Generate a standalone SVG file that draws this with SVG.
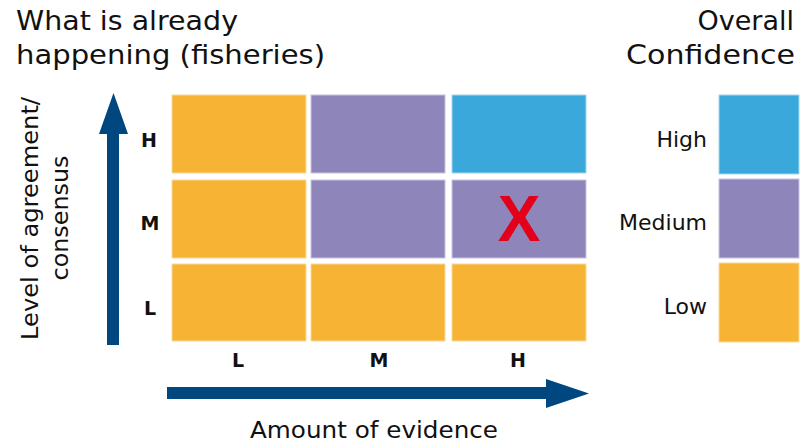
<svg xmlns="http://www.w3.org/2000/svg" width="800" height="445" viewBox="0 0 800 445">
  <style>
    text { font-family: "DejaVu Sans", "Liberation Sans", sans-serif; fill: #111111; }
    .title { font-size: 27px; }
    .axis { font-size: 23px; }
    .tick { font-size: 19px; font-weight: bold; text-anchor: middle; }
    .legend { font-size: 22px; text-anchor: end; }
    .low { fill: #F7B334; stroke: #FBD99A; stroke-width: 1; }
    .med { fill: #8E86BA; stroke: #C9C4E0; stroke-width: 1; }
    .high { fill: #3AA8DB; stroke: #A6D8F0; stroke-width: 1; }
    .arrow { fill: #00467F; }
    .mark { font-family: "Liberation Sans", Arial, sans-serif; font-weight: bold; font-size: 64px; fill: #E3001B; text-anchor: middle; }
  </style>

  <!-- headings -->
  <g id="title">
    <text class="title" x="16" y="30" textLength="222" lengthAdjust="spacingAndGlyphs">What is already</text>
    <text class="title" x="16" y="64" textLength="309" lengthAdjust="spacingAndGlyphs">happening (fisheries)</text>
  </g>
  <g id="legend-title">
    <text class="title" x="794" y="30" text-anchor="end">Overall</text>
    <text class="title" x="795" y="64" text-anchor="end" textLength="169" lengthAdjust="spacingAndGlyphs">Confidence</text>
  </g>

  <!-- axes -->
  <g id="axes">
    <path class="arrow" d="M107,345 V134 H99 L113.5,93 L128,134 H119 V345 Z"/>
    <path class="arrow" d="M167,387 H546 V379 L589,393.5 L546,408 V399 H167 Z"/>
  </g>

  <g id="y-axis-label">
    <text class="axis" transform="translate(38,218.5) rotate(-90)" text-anchor="middle" textLength="243" lengthAdjust="spacingAndGlyphs">Level of agreement/</text>
    <text class="axis" transform="translate(68,218) rotate(-90)" text-anchor="middle" textLength="125" lengthAdjust="spacingAndGlyphs">consensus</text>
  </g>
  <g id="x-axis-label">
    <text class="axis" x="250" y="438" textLength="248" lengthAdjust="spacingAndGlyphs">Amount of evidence</text>
  </g>

  <!-- tick labels -->
  <g id="row-labels">
    <text class="tick" x="149" y="147">H</text>
    <text class="tick" x="150" y="230">M</text>
    <text class="tick" x="150" y="315">L</text>
  </g>
  <g id="col-labels">
    <text class="tick" x="238" y="367">L</text>
    <text class="tick" x="379" y="367">M</text>
    <text class="tick" x="518" y="367">H</text>
  </g>

  <!-- confidence grid: rows = agreement (H, M, L), columns = evidence (L, M, H) -->
  <g id="grid">
    <rect class="low"  x="172" y="95"  width="134" height="78"/>
    <rect class="med"  x="311" y="95"  width="134" height="78"/>
    <rect class="high" x="452" y="95"  width="134" height="78"/>
    <rect class="low"  x="172" y="180" width="134" height="78"/>
    <rect class="med"  x="311" y="180" width="134" height="78"/>
    <rect class="med"  x="452" y="180" width="134" height="78"/>
    <rect class="low"  x="172" y="264" width="134" height="77"/>
    <rect class="low"  x="311" y="264" width="134" height="77"/>
    <rect class="low"  x="452" y="264" width="134" height="77"/>
  </g>
  <g id="assessment">
    <text class="mark" x="519" y="241">X</text>
  </g>

  <!-- legend -->
  <g id="legend">
    <rect class="high" x="719" y="95"  width="80" height="79"/>
    <rect class="med"  x="719" y="179" width="80" height="79"/>
    <rect class="low"  x="719" y="263" width="80" height="79"/>
    <text class="legend" x="707" y="147">High</text>
    <text class="legend" x="707" y="230">Medium</text>
    <text class="legend" x="707" y="314">Low</text>
  </g>
</svg>
